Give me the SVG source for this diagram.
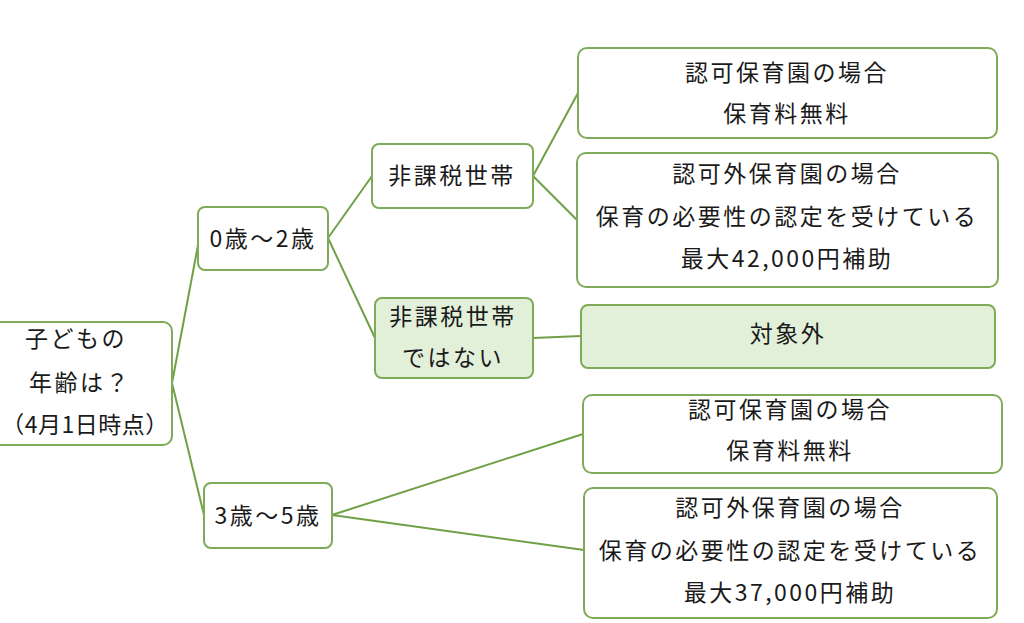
<svg xmlns="http://www.w3.org/2000/svg" width="1024" height="623" viewBox="0 0 1024 623">
<style>
.box{fill:#ffffff;stroke:#7eab58;stroke-width:2}
.gbox{fill:#e2efd9;stroke:#7eab58;stroke-width:2}
.t{font-family:"Noto Sans CJK JP","Noto Sans CJK SC",sans-serif;font-size:23px;fill:#1a1a1a;text-anchor:middle;letter-spacing:2.5px}
.c{stroke:#6fa046;stroke-width:2;fill:none}
</style>
<rect width="1024" height="623" fill="#ffffff"/>
<g id="connectors">
<line class="c" x1="172" y1="383" x2="199" y2="240"/>
<line class="c" x1="172" y1="383" x2="204" y2="515"/>
<line class="c" x1="328" y1="238" x2="372" y2="176"/>
<line class="c" x1="328" y1="238" x2="375" y2="338"/>
<line class="c" x1="533" y1="176" x2="578" y2="93"/>
<line class="c" x1="533" y1="176" x2="577" y2="220"/>
<line class="c" x1="533" y1="338" x2="581" y2="336"/>
<line class="c" x1="332" y1="515" x2="583" y2="434"/>
<line class="c" x1="332" y1="515" x2="584" y2="550"/>
</g>
<g id="root">
<rect class="box" x="-12" y="322" width="184" height="123" rx="9"/>
<text class="t" x="76" y="347">子どもの</text>
<text class="t" x="80" y="391">年齢は？</text>
<text class="t" x="85" y="433" style="letter-spacing:0.5px">（4月1日時点）</text>
</g>
<g id="age02">
<rect class="box" x="198" y="207" width="130" height="63" rx="7"/>
<text class="t" x="263" y="247">0歳～2歳</text>
</g>
<g id="hikazei">
<rect class="box" x="372" y="144" width="161" height="64" rx="7"/>
<text class="t" x="452" y="184">非課税世帯</text>
</g>
<g id="hikazei-not">
<rect class="gbox" x="375" y="298" width="158" height="80" rx="7"/>
<text class="t" x="453" y="325">非課税世帯</text>
<text class="t" x="453" y="366">ではない</text>
</g>
<g id="ninka1">
<rect class="box" x="578" y="48" width="419" height="90" rx="9"/>
<text class="t" x="787" y="81">認可保育園の場合</text>
<text class="t" x="787" y="122">保育料無料</text>
</g>
<g id="ninkagai1">
<rect class="box" x="577" y="153" width="421" height="134" rx="9"/>
<text class="t" x="787" y="182">認可外保育園の場合</text>
<text class="t" x="787" y="225">保育の必要性の認定を受けている</text>
<text class="t" x="787" y="267">最大42,000円補助</text>
</g>
<g id="taishogai">
<rect class="gbox" x="581" y="305" width="414" height="63" rx="7"/>
<text class="t" x="788" y="342">対象外</text>
</g>
<g id="age35">
<rect class="box" x="204" y="483" width="128" height="65" rx="7"/>
<text class="t" x="268" y="524">3歳～5歳</text>
</g>
<g id="ninka2">
<rect class="box" x="583" y="395" width="419" height="78" rx="9"/>
<text class="t" x="790" y="418">認可保育園の場合</text>
<text class="t" x="790" y="459">保育料無料</text>
</g>
<g id="ninkagai2">
<rect class="box" x="584" y="488" width="413" height="130" rx="9"/>
<text class="t" x="790" y="516">認可外保育園の場合</text>
<text class="t" x="790" y="559">保育の必要性の認定を受けている</text>
<text class="t" x="790" y="601">最大37,000円補助</text>
</g>
</svg>
